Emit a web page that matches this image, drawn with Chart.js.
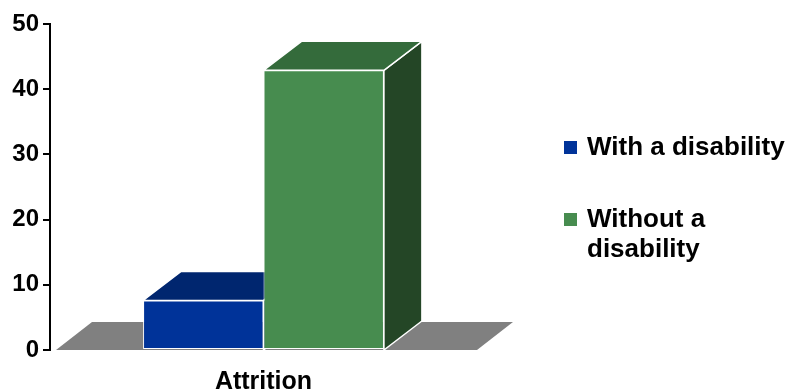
<!DOCTYPE html>
<html>
<head>
<meta charset="utf-8">
<script src="https://cdn.jsdelivr.net/npm/chart.js@4"></script>
<style>
  html, body { margin: 0; padding: 0; background: #fff; }
  #wrap { width: 793px; height: 390px; }
</style>
</head>
<body>
<div id="wrap"><canvas id="myChart" width="793" height="390"></canvas></div>
<script>
var categories = ['Attrition'];
var seriesLabels = ['With a disability', 'Without a disability'];
var withDisability = [7.6];
var withoutDisability = [42.9];
var yTicks = [0, 10, 20, 30, 40, 50];

// colours: front, top, side
var frontColors = ['#003399', '#478C4F'];
var topColors = ['#00266F', '#346B3B'];
var sideColors = ['#001F5C', '#244626'];

var depthX = 38, depthY = 29;

function poly(ctx, pts, fill) {
    ctx.beginPath();
    ctx.moveTo(pts[0][0], pts[0][1]);
    for (var i = 1; i < pts.length; i++) ctx.lineTo(pts[i][0], pts[i][1]);
    ctx.closePath();
    ctx.fillStyle = fill;
    ctx.fill();
    ctx.stroke();
}

// floor + top/side faces, drawn before the front faces
var faces = {
    id: 'faces',
    beforeDatasetsDraw: function (chart) {
        var ctx = chart.ctx, a = chart.chartArea;
        var base = chart.scales.y.getPixelForValue(0);
        ctx.save();
        ctx.strokeStyle = '#fff';
        ctx.lineWidth = 1.5;
        ctx.beginPath();
        ctx.moveTo(a.left + 6, base);
        ctx.lineTo(a.left + 42, base - 28);
        ctx.lineTo(a.right + 36, base - 28);
        ctx.lineTo(a.right, base);
        ctx.closePath();
        ctx.fillStyle = '#808080';
        ctx.fill();
        chart.data.datasets.forEach(function (ds, i) {
            chart.getDatasetMeta(i).data.forEach(function (bar) {
                var p = bar.getProps(['x', 'y', 'width'], true);
                var l = p.x - p.width / 2, r = p.x + p.width / 2, t = p.y;
                poly(ctx, [[r, t], [r + depthX, t - depthY], [r + depthX, base - depthY], [r, base]], sideColors[i]);
                poly(ctx, [[l, t], [l + depthX, t - depthY], [r + depthX, t - depthY], [r, t]], topColors[i]);
            });
        });
        ctx.restore();
    }
};

// legend on the right, wrapped text
var sideLegend = {
    id: 'sideLegend',
    afterDraw: function (chart) {
        var ctx = chart.ctx;
        var x0 = chart.chartArea.right + 87;
        var y0 = 141;
        ctx.save();
        ctx.font = 'bold 26px "Liberation Sans", Arial, sans-serif';
        ctx.textBaseline = 'alphabetic';
        chart.data.datasets.forEach(function (ds, i) {
            var top = y0 + i * 72;
            ctx.fillStyle = ds.backgroundColor;
            ctx.fillRect(x0, top, 13, 13);
            // word wrap
            var words = ds.label.split(' '), lines = [], line = '';
            words.forEach(function (w) {
                var test = line ? line + ' ' + w : w;
                if (ctx.measureText(test).width > 215 && line) { lines.push(line); line = w; }
                else line = test;
            });
            lines.push(line);
            ctx.fillStyle = '#000';
            lines.forEach(function (ln, k) {
                ctx.fillText(ln, x0 + 23, top + 14 + k * 30);
            });
        });
        ctx.restore();
    }
};

Chart.defaults.font.family = '"Liberation Sans", Arial, sans-serif';
Chart.defaults.color = '#000';

var ctx = document.getElementById('myChart').getContext('2d');
var myChart = new Chart(ctx, {
    type: 'bar',
    data: {
        labels: categories,
        datasets: [{
            label: seriesLabels[0],
            data: withDisability,
            backgroundColor: frontColors[0],
            borderColor: '#fff',
            borderWidth: 1,
            borderSkipped: false
        }, {
            label: seriesLabels[1],
            data: withoutDisability,
            backgroundColor: frontColors[1],
            borderColor: '#fff',
            borderWidth: 1,
            borderSkipped: false
        }]
    },
    options: {
        responsive: false,
        animation: false,
        devicePixelRatio: 1,
        layout: { padding: { left: 0, right: 316, top: 24, bottom: 0 } },
        datasets: { bar: { categoryPercentage: 0.564, barPercentage: 1 } },
        plugins: { legend: { display: false }, tooltip: { enabled: false } },
        scales: {
            x: {
                grid: { display: false },
                border: { display: false },
                ticks: { font: { size: 25, weight: 'bold' }, padding: 9 },
                afterFit: function (s) { s.height = 40; }
            },
            y: {
                min: yTicks[0],
                max: yTicks[yTicks.length - 1],
                afterBuildTicks: function (s) { s.ticks = yTicks.map(function (v) { return { value: v }; }); },
                grid: { drawOnChartArea: false, drawTicks: true, tickLength: 7, color: '#000', lineWidth: 2 },
                border: { display: true, color: '#000', width: 2 },
                ticks: { font: { size: 24, weight: 'bold' }, padding: 4 },
                afterFit: function (s) { s.width = 50; }
            }
        }
    },
    plugins: [faces, sideLegend]
});
</script>
</body>
</html>
